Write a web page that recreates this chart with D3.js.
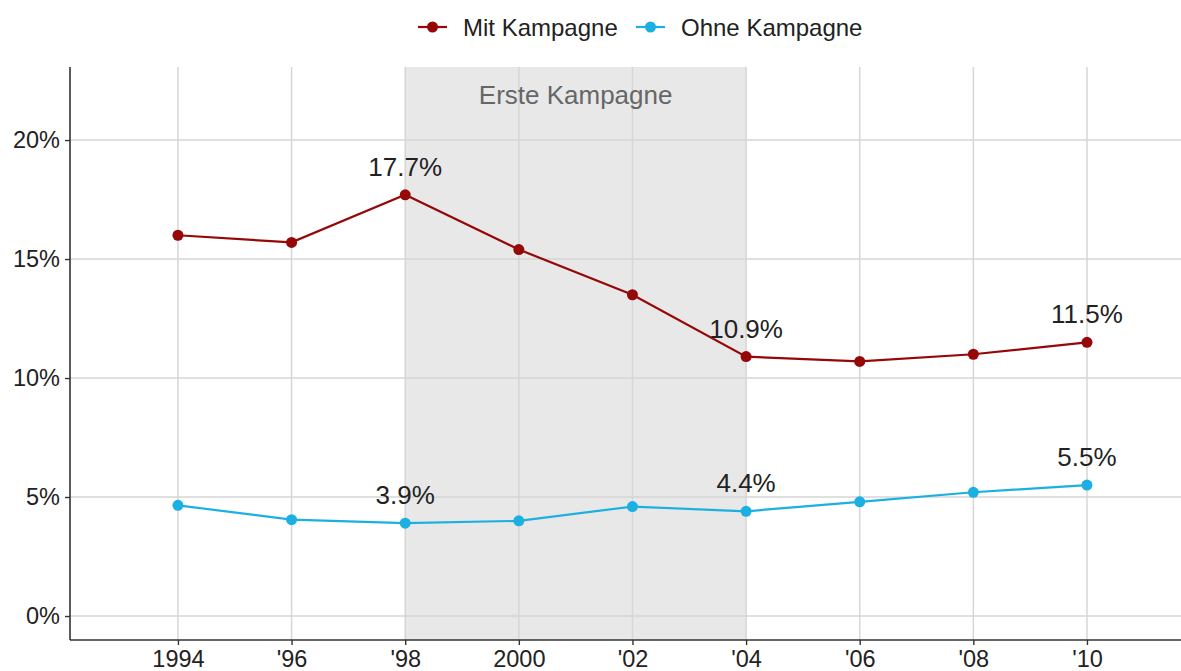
<!DOCTYPE html>
<html>
<head>
<meta charset="utf-8">
<script src="https://cdn.jsdelivr.net/npm/d3@7"></script>
<style>
  body { margin: 0; background: #fff; }
  svg { display: block; font-family: "Liberation Sans", Arial, sans-serif; }
</style>
</head>
<body>
<svg width="1181" height="671"></svg>
<script>
// data
const years = [1994, 1996, 1998, 2000, 2002, 2004, 2006, 2008, 2010];
const yearLabels = ["1994", "'96", "'98", "2000", "'02", "'04", "'06", "'08", "'10"];
const mitKampagne = [16.0, 15.7, 17.7, 15.4, 13.5, 10.9, 10.7, 11.0, 11.5];
const ohneKampagne = [4.65, 4.05, 3.9, 4.0, 4.6, 4.4, 4.8, 5.2, 5.5];
const yTicks = [0, 5, 10, 15, 20];
const labelYears = [1998, 2004, 2010];
const campaign = [1998, 2004];

const red = "#960808", blue = "#1cb0e2";
const svg = d3.select("svg");
const pLeft = 70, pRight = 1181, pTop = 67, pBottom = 640;

const x = d3.scaleLinear().domain([1992.1, 2011.655]).range([pLeft, pRight]);
const y = d3.scaleLinear().domain([-1.008, 23.07]).range([pBottom, pTop]);

// shaded period
svg.append("rect")
  .attr("x", x(campaign[0])).attr("y", pTop)
  .attr("width", x(campaign[1]) - x(campaign[0]))
  .attr("height", pBottom - pTop)
  .attr("fill", "#e8e8e8");

// grid
svg.append("g").selectAll("line").data(yTicks).join("line")
  .attr("x1", pLeft).attr("x2", pRight)
  .attr("y1", d => y(d)).attr("y2", d => y(d))
  .attr("stroke", "#d6d6d6").attr("stroke-width", 1.5);
svg.append("g").selectAll("line").data(years).join("line")
  .attr("x1", d => x(d)).attr("x2", d => x(d))
  .attr("y1", pTop).attr("y2", pBottom)
  .attr("stroke", "#d6d6d6").attr("stroke-width", 1.5);

svg.append("text")
  .attr("x", (x(campaign[0]) + x(campaign[1])) / 2).attr("y", 104)
  .attr("text-anchor", "middle")
  .attr("font-size", 26).attr("fill", "#666")
  .text("Erste Kampagne");

// axes
const xAxis = d3.axisBottom(x).tickValues(years)
  .tickFormat((d, i) => yearLabels[i]).tickSize(5).tickPadding(5);
const yAxis = d3.axisLeft(y).tickValues(yTicks)
  .tickFormat(d => d + "%").tickSize(5).tickPadding(5);

const gx = svg.append("g").attr("transform", `translate(0,${pBottom})`).call(xAxis);
const gy = svg.append("g").attr("transform", `translate(${pLeft},0)`).call(yAxis);
[gx, gy].forEach(g => {
  g.select(".domain").attr("stroke", "#333").attr("stroke-width", 1.6);
  g.selectAll(".tick line").attr("stroke", "#333").attr("stroke-width", 1.4);
  g.selectAll(".tick text").attr("font-size", 23.5).attr("fill", "#222")
    .attr("font-family", "Liberation Sans, Arial, sans-serif");
});
// axis lines run along the whole panel
gx.select(".domain").attr("d", `M${pLeft},0H${pRight}`);
gy.select(".domain").attr("d", `M0,${pTop}V${pBottom}`);

// series
const series = [
  { name: "Mit Kampagne", values: mitKampagne, color: red },
  { name: "Ohne Kampagne", values: ohneKampagne, color: blue }
];
const line = d3.line().x(d => x(d[0])).y(d => y(d[1]));

series.forEach(s => {
  const pts = years.map((yr, i) => [yr, s.values[i]]);
  svg.append("path").datum(pts)
    .attr("d", line).attr("fill", "none")
    .attr("stroke", s.color).attr("stroke-width", 2.2);
  svg.append("g").selectAll("circle").data(pts).join("circle")
    .attr("cx", d => x(d[0])).attr("cy", d => y(d[1])).attr("r", 5.5)
    .attr("fill", s.color);
  svg.append("g").selectAll("text")
    .data(pts.filter(d => labelYears.includes(d[0]))).join("text")
    .attr("x", d => x(d[0])).attr("y", d => y(d[1]) - 19)
    .attr("text-anchor", "middle").attr("font-size", 26).attr("fill", "#222")
    .text(d => d[1].toFixed(1) + "%");
});

// legend
const legend = [
  { name: "Mit Kampagne", color: red, x: 418 },
  { name: "Ohne Kampagne", color: blue, x: 636 }
];
const lg = svg.append("g").selectAll("g").data(legend).join("g")
  .attr("transform", d => `translate(${d.x},27)`);
lg.append("line").attr("x1", 0).attr("x2", 29)
  .attr("stroke", d => d.color).attr("stroke-width", 2.2);
lg.append("circle").attr("cx", 14.5).attr("r", 5.5).attr("fill", d => d.color);
lg.append("text").attr("x", 45).attr("y", 8.5)
  .attr("font-size", 24).attr("fill", "#222").text(d => d.name);
</script>
</body>
</html>
